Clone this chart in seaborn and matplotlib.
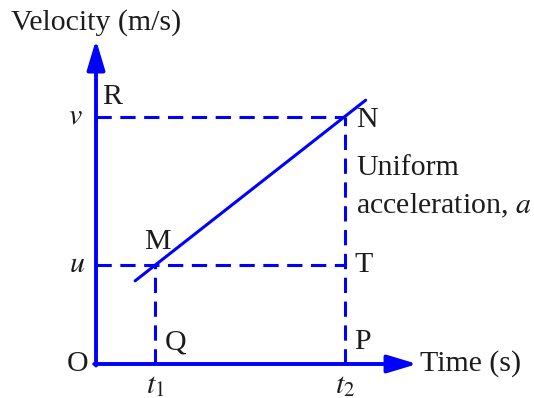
import matplotlib
matplotlib.use("Agg")
import numpy as np
import pandas as pd
import matplotlib.pyplot as plt
import seaborn as sns

sns.set_style("white")
plt.rcParams['font.family'] = ['Liberation Serif', 'DejaVu Serif']
plt.rcParams['mathtext.fontset'] = 'stix'

# values (time units / velocity units)
t1, t2 = 1.0, 4.2
u, v = 2.0, 5.0
line_t = [0.66, 4.55]
line_v = [1.68, 5.33]
t_axis_end = 5.42
v_axis_end = 6.55

BLUE = '#0000ff'
TXT = '#1c1c1c'
FS = 21.5
PT = 0.72  # points per pixel at 100 dpi

fig = plt.figure(figsize=(5.34, 3.98), dpi=100)
ax = fig.add_axes([0, 0, 1, 1])
ax.set_xlim(-1.62, 7.39)
ax.set_ylim(-0.687, 7.354)
ax.axis('off')

# the velocity-time line
df = pd.DataFrame({'t': line_t, 'v': line_v})
sns.lineplot(data=df, x='t', y='v', color=BLUE, lw=2.2, ax=ax)

# dashed guides
dash = (0, (5.0, 2.8))
kw = dict(color=BLUE, lw=2.2, ls=dash, solid_capstyle='butt')
ax.plot([0, t2], [v, v], **kw)
ax.plot([0, t2], [u, u], **kw)
ax.plot([t2, t2], [0, v], **kw)
ax.plot([t1, t1], [0, u], **kw)

# axes with arrows
arr = dict(arrowstyle='-|>,head_length=0.9,head_width=0.27', color=BLUE, lw=2.8,
           mutation_scale=20, shrinkA=0, shrinkB=0)
ax.annotate('', xy=(0, v_axis_end), xytext=(0, -0.03), arrowprops=arr)
ax.annotate('', xy=(t_axis_end, 0), xytext=(-0.03, 0), arrowprops=arr)


def label(s, xy, dx, dy, ha, va):
    ax.annotate(s, xy=xy, xytext=(dx * PT, dy * PT), textcoords='offset points',
                ha=ha, va=va, fontsize=FS, color=TXT)


label('Velocity (m/s)', (0, v_axis_end), 0, 4, 'center', 'bottom')
label('Time (s)', (t_axis_end, 0), 3, 0, 'left', 'center')
label('O', (0, 0), -8, 0, 'right', 'center')
label('R', (0, v), 6, 7, 'left', 'bottom')
label('$v$', (0, v), -13, 0, 'right', 'center')
label('$u$', (0, u), -11, 0, 'right', 'center')
label('M', (t1, u), 2, 10, 'center', 'bottom')
label('N', (t2, v), 11, -3, 'left', 'center')
label('T', (t2, u), 10, 0, 'left', 'center')
label('Q', (t1, 0), 9, 8, 'left', 'bottom')
label('P', (t2, 0), 9, 9, 'left', 'bottom')
label('$t_1$', (t1, 0), 0, -9, 'center', 'top')
label('$t_2$', (t2, 0), 0, -9, 'center', 'top')
label('Uniform', (t2, v), 11, -51, 'left', 'center')
label('acceleration, $a$', (t2, v), 11, -89, 'left', 'center')

fig.savefig('out.png', dpi=100)
